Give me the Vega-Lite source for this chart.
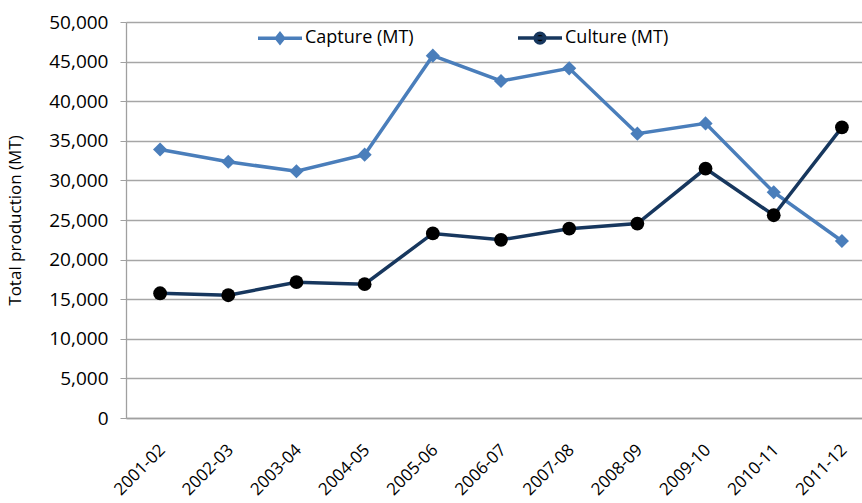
{
  "$schema": "https://vega.github.io/schema/vega-lite/v6.json",
  "width": 750,
  "height": 396,
  "autosize": {"type": "none"},
  "padding": {"left": 126, "top": 22, "right": -14, "bottom": 85},
  "background": "white",
  "config": {
    "view": {"stroke": null},
    "font": "Open Sans",
    "axis": {"labelFont": "Open Sans", "titleFont": "Open Sans", "labelColor": "#000", "titleColor": "#000"}
  },
  "data": {
    "values": [
      {"period": "2001-02", "series": "Capture (MT)", "value": 33900},
      {"period": "2002-03", "series": "Capture (MT)", "value": 32350},
      {"period": "2003-04", "series": "Capture (MT)", "value": 31150},
      {"period": "2004-05", "series": "Capture (MT)", "value": 33250},
      {"period": "2005-06", "series": "Capture (MT)", "value": 45750},
      {"period": "2006-07", "series": "Capture (MT)", "value": 42550},
      {"period": "2007-08", "series": "Capture (MT)", "value": 44150},
      {"period": "2008-09", "series": "Capture (MT)", "value": 35900},
      {"period": "2009-10", "series": "Capture (MT)", "value": 37200},
      {"period": "2010-11", "series": "Capture (MT)", "value": 28500},
      {"period": "2011-12", "series": "Capture (MT)", "value": 22350},
      {"period": "2001-02", "series": "Culture (MT)", "value": 15750},
      {"period": "2002-03", "series": "Culture (MT)", "value": 15500},
      {"period": "2003-04", "series": "Culture (MT)", "value": 17150},
      {"period": "2004-05", "series": "Culture (MT)", "value": 16900},
      {"period": "2005-06", "series": "Culture (MT)", "value": 23300},
      {"period": "2006-07", "series": "Culture (MT)", "value": 22500},
      {"period": "2007-08", "series": "Culture (MT)", "value": 23900},
      {"period": "2008-09", "series": "Culture (MT)", "value": 24550},
      {"period": "2009-10", "series": "Culture (MT)", "value": 31500},
      {"period": "2010-11", "series": "Culture (MT)", "value": 25600},
      {"period": "2011-12", "series": "Culture (MT)", "value": 36700}
    ]
  },
  "encoding": {
    "x": {
      "field": "period", "type": "ordinal", "sort": null,
      "scale": {"type": "point", "padding": 0.5},
      "axis": {
        "title": null, "labelAngle": -45, "labelAlign": "right", "labelBaseline": "middle",
        "labelFontSize": 17, "labelPadding": 29, "labelOffset": 2,
        "ticks": false, "domain": true, "domainColor": "#a0a0a0", "domainWidth": 1.3, "grid": false
      }
    },
    "y": {
      "field": "value", "type": "quantitative",
      "scale": {"domain": [0, 50000], "nice": false, "zero": true},
      "axis": {
        "title": "Total production (MT)", "titleFontSize": 17, "titleFontWeight": "normal", "titlePadding": 24,
        "values": [0, 5000, 10000, 15000, 20000, 25000, 30000, 35000, 40000, 45000, 50000],
        "format": ",d", "labelFontSize": 19, "labelPadding": 12,
        "grid": true, "gridColor": "#a6a6a6", "gridWidth": 1.3,
        "domain": true, "domainColor": "#a0a0a0", "domainWidth": 1.3,
        "ticks": true, "tickColor": "#a0a0a0", "tickSize": 6
      }
    }
  },
  "layer": [
    {
      "mark": {"type": "line", "strokeWidth": 3.5},
      "encoding": {
        "color": {
          "field": "series", "type": "nominal",
          "scale": {"domain": ["Capture (MT)", "Culture (MT)"], "range": ["#4A7EBB", "#17375E"]},
          "legend": {
            "title": null, "orient": "none", "direction": "horizontal",
            "legendX": 130, "legendY": -8,
            "labelFontSize": 18, "labelFont": "Open Sans", "labelColor": "#000",
            "symbolSize": 1936, "symbolStrokeWidth": 3.5, "columnPadding": 97, "labelOffset": 1,
            "encode": {
              "symbols": {
                "update": {
                  "shape": {"signal": "datum.value === 'Capture (MT)' ? 'M-1,0L1,0M0,-0.2L0.16,0L0,0.2L-0.16,0Z' : 'M-1,0L1,0M0.22,0A0.22,0.22,0,1,1,-0.22,0A0.22,0.22,0,1,1,0.22,0Z'"},
                  "fill": {"signal": "datum.value === 'Capture (MT)' ? '#4A7EBB' : '#000000'"},
                  "stroke": {"signal": "datum.value === 'Capture (MT)' ? '#4A7EBB' : '#17375E'"},
                  "strokeWidth": {"value": 3.5},
                  "opacity": {"value": 1}
                }
              }
            }
          }
        }
      }
    },
    {
      "mark": {"type": "point", "filled": true, "opacity": 1},
      "encoding": {
        "shape": {"condition": {"test": "datum.series === 'Capture (MT)'", "value": "diamond"}, "value": "circle"},
        "fill": {"condition": {"test": "datum.series === 'Capture (MT)'", "value": "#4A7EBB"}, "value": "#000000"},
        "size": {"condition": {"test": "datum.series === 'Capture (MT)'", "value": 200}, "value": 190}
      }
    }
  ]
}
